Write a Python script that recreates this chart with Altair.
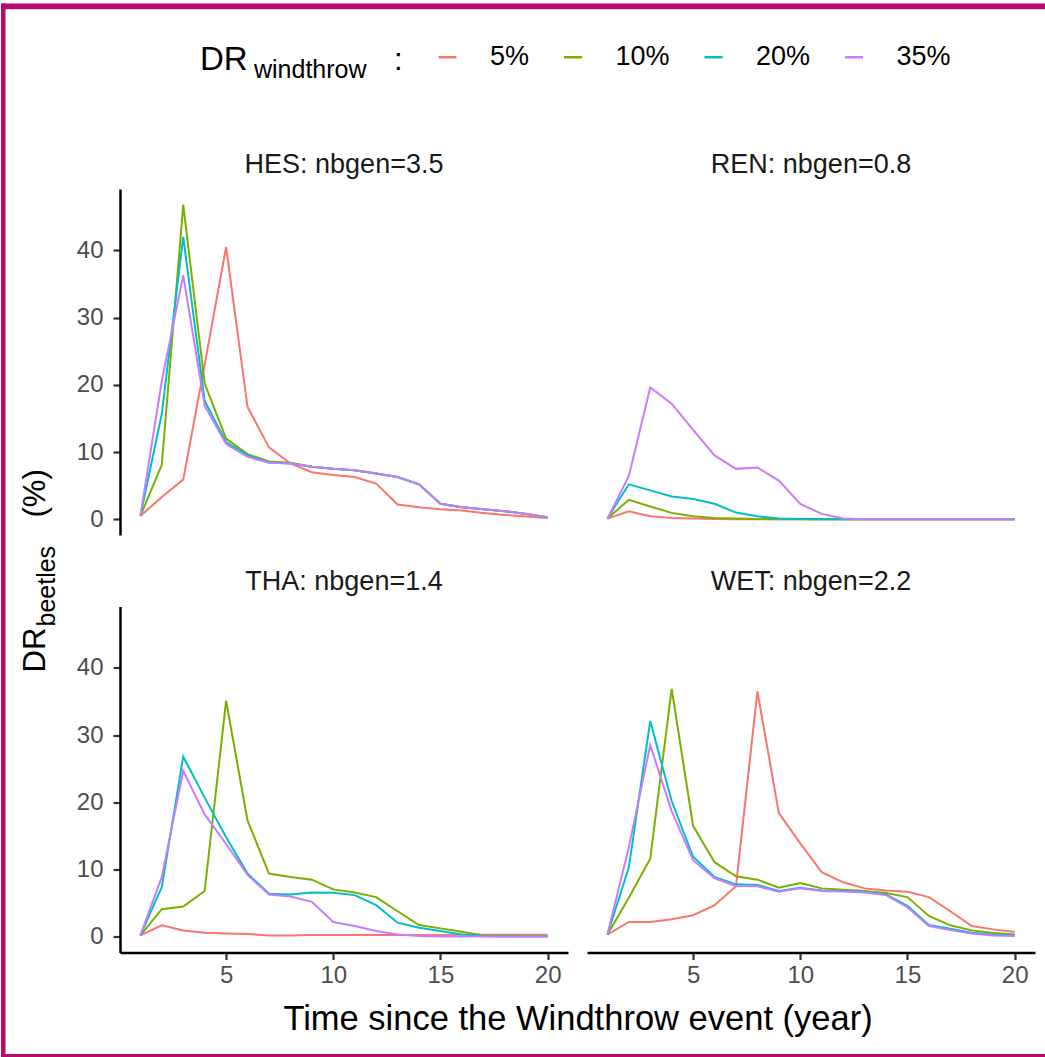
import altair as alt
import pandas as pd

FONT = "Liberation Sans"

# ---------------- data ----------------
years = list(range(1, 21))
dr_levels = ["5%", "10%", "20%", "35%"]
line_colors = ["#F8766D", "#7CAE00", "#00BFC4", "#C77CFF"]
sites = ["HES", "REN", "THA", "WET"]
nbgen = ["3.5", "0.8", "1.4", "2.2"]
panel_labels = [f"{s}: nbgen={g}" for s, g in zip(sites, nbgen)]

hes_5 = [0.5, 3.3, 5.9, 23.0, 40.5, 16.7, 10.7, 8.3, 7.0, 6.6, 6.3, 5.3, 2.2, 1.8, 1.5, 1.3, 0.95, 0.65, 0.4, 0.2]
hes_10 = [0.5, 8.1, 46.8, 20.2, 12.0, 9.7, 8.6, 8.4, 7.8, 7.5, 7.3, 6.8, 6.3, 5.2, 2.3, 1.8, 1.5, 1.2, 0.8, 0.3]
hes_20 = [0.5, 15.7, 42.0, 17.6, 11.5, 9.5, 8.5, 8.3, 7.8, 7.5, 7.3, 6.8, 6.3, 5.2, 2.3, 1.8, 1.5, 1.2, 0.8, 0.3]
hes_35 = [0.5, 20.6, 36.3, 16.9, 11.2, 9.3, 8.4, 8.3, 7.8, 7.5, 7.3, 6.8, 6.3, 5.2, 2.3, 1.8, 1.5, 1.2, 0.8, 0.3]

ren_5 = [0.1, 1.2, 0.45, 0.2, 0.1, 0.05, 0.02, 0.01, 0, 0, 0, 0, 0, 0, 0, 0, 0, 0, 0, 0]
ren_10 = [0.1, 2.9, 1.9, 0.95, 0.45, 0.2, 0.1, 0.05, 0.02, 0.01, 0, 0, 0, 0, 0, 0, 0, 0, 0, 0]
ren_20 = [0.1, 5.2, 4.3, 3.4, 3.0, 2.3, 1.0, 0.45, 0.1, 0.03, 0, 0, 0, 0, 0, 0, 0, 0, 0, 0]
ren_35 = [0.1, 6.4, 19.6, 17.2, 13.3, 9.5, 7.5, 7.7, 5.75, 2.3, 0.8, 0.1, 0.02, 0, 0, 0, 0, 0, 0, 0]

tha_5 = [0.2, 1.7, 0.95, 0.6, 0.5, 0.4, 0.2, 0.2, 0.25, 0.25, 0.25, 0.25, 0.25, 0.25, 0.25, 0.3, 0.3, 0.3, 0.3, 0.3]
tha_10 = [0.2, 4.1, 4.5, 6.8, 35.1, 17.3, 9.4, 8.9, 8.5, 7.05, 6.6, 5.9, 3.8, 1.75, 1.25, 0.75, 0.2, 0.15, 0.1, 0.1]
tha_20 = [0.2, 7.4, 26.8, 20.7, 14.8, 9.4, 6.4, 6.3, 6.6, 6.55, 6.2, 4.7, 2.1, 1.35, 0.85, 0.35, 0.1, 0.05, 0.05, 0.05]
tha_35 = [0.2, 8.9, 24.7, 18.2, 13.8, 9.2, 6.3, 6.0, 5.2, 2.2, 1.6, 0.85, 0.35, 0.1, 0.05, 0.05, 0.05, 0.05, 0.05, 0.05]

wet_5 = [0.3, 2.2, 2.2, 2.6, 3.2, 4.7, 7.5, 36.5, 18.4, 13.9, 9.6, 8.1, 7.2, 6.9, 6.7, 5.9, 3.8, 1.6, 1.1, 0.7]
wet_10 = [0.3, 5.8, 11.6, 36.9, 16.5, 11.1, 9.0, 8.5, 7.3, 8.0, 7.2, 7.0, 6.8, 6.5, 5.9, 3.1, 1.7, 0.95, 0.55, 0.35]
wet_20 = [0.3, 10.3, 32.1, 20.2, 11.9, 8.9, 7.8, 7.7, 6.8, 7.3, 6.9, 6.8, 6.65, 6.3, 4.6, 1.75, 1.2, 0.6, 0.35, 0.2]
wet_35 = [0.3, 13.3, 28.5, 18.7, 11.4, 8.7, 7.55, 7.5, 6.7, 7.2, 6.8, 6.75, 6.6, 6.2, 4.4, 1.6, 1.0, 0.5, 0.2, 0.1]

series_by_site = {
    "HES": [hes_5, hes_10, hes_20, hes_35],
    "REN": [ren_5, ren_10, ren_20, ren_35],
    "THA": [tha_5, tha_10, tha_20, tha_35],
    "WET": [wet_5, wet_10, wet_20, wet_35],
}

x_ticks = [5, 10, 15, 20]
y_ticks = [0, 10, 20, 30, 40]

rows = []
for site, label in zip(sites, panel_labels):
    for lev, vals in zip(dr_levels, series_by_site[site]):
        for t, v in zip(years, vals):
            rows.append({"panel": label, "dr": lev, "year": t, "value": v})
df = pd.DataFrame(rows)

# ---------------- layout constants (pixels) ----------------
W, H = 448, 346
HSP, VSP = 19, 71.5
OX, OY = 120.0, 188.5          # page position of the top-left panel origin
PAGE_W, PAGE_H = 1045, 1057
FRAME = "#B8096F"

# ggplot-like 5% expansion of the scales
xr = max(years) - min(years)
xdom = [min(years) - 0.05 * xr, max(years) + 0.05 * xr]
ymax = float(df["value"].max())
ymin = float(df["value"].min())
yr = ymax - ymin
ydom = [ymin - 0.05 * yr, ymax + 0.05 * yr]

xscale = alt.Scale(domain=xdom, nice=False, zero=False)
yscale = alt.Scale(domain=ydom, nice=False, zero=False)

axis_common = dict(
    title=None, grid=False, labelFont=FONT, labelFontSize=24, labelColor="#4D4D4D",
    tickColor="#333333", tickWidth=2.2, tickSize=7, domainColor="black", domainWidth=2.5,
)
xaxis = alt.Axis(values=x_ticks, labelPadding=4, **axis_common)
yaxis = alt.Axis(values=y_ticks, labelPadding=10, **axis_common)

color_enc = alt.Color(
    "dr:N",
    scale=alt.Scale(domain=dr_levels, range=line_colors),
    sort=dr_levels,
    legend=alt.Legend(
        title=None, orient="none", direction="horizontal",
        legendX=434 - OX, legendY=43 - OY,
        symbolType="stroke", symbolSize=324, symbolStrokeWidth=2.5,
        labelFont=FONT, labelFontSize=27, labelColor="black",
        labelOffset=29, columnPadding=28.5, padding=0,
    ),
)


def one(values):
    return alt.Data(values=[values])


def page_text(txt, ax, ay, size, align="left", angle=0, baseline="alphabetic", color="black"):
    kw = dict(text=txt, font=FONT, fontSize=size, align=align, baseline=baseline, color=color)
    if angle:
        kw["angle"] = angle
    return alt.Chart(one({"k": 1})).mark_text(**kw).encode(
        x=alt.value(ax - OX), y=alt.value(ay - OY)
    )


def page_rect(x0, y0, x1, y1, color, opacity=1.0):
    return alt.Chart(one({"k": 1})).mark_rect(color=color, opacity=opacity).encode(
        x=alt.value(x0 - OX), x2=alt.value(x1 - OX),
        y=alt.value(y0 - OY), y2=alt.value(y1 - OY),
    )


def panel(i, show_x, show_y, extras=()):
    label = panel_labels[i]
    lines = alt.Chart(df).transform_filter(alt.datum.panel == label).mark_line(
        strokeWidth=2
    ).encode(
        x=alt.X("year:Q", scale=xscale, axis=xaxis if show_x else None),
        y=alt.Y("value:Q", scale=yscale, axis=yaxis if show_y else None),
        color=color_enc,
    )
    strip = alt.Chart(one({"label": label})).mark_text(
        font=FONT, fontSize=27, color="#1A1A1A", align="center", baseline="alphabetic"
    ).encode(text="label:N", x=alt.value(W / 2), y=alt.value(-16.5))
    return alt.layer(*extras, lines, strip).properties(width=W, height=H)


decorations = [
    page_rect(0, 0, PAGE_W, PAGE_H, "white", opacity=0.0),
    page_rect(1, 3, 5.5, PAGE_H, FRAME),
    page_rect(1, 3, PAGE_W, 8.7, FRAME),
    page_rect(1, 1053.5, PAGE_W, PAGE_H, FRAME),
    # legend title  DR_windthrow :
    page_text("DR", 200, 69, 33),
    page_text("windthrow", 254, 77, 25),
    page_text(":", 394, 69, 31),
    # y title  DR_beetles (%)
    page_text("DR", 45, 672, 31, angle=270),
    page_text("beetles", 55, 626, 25, angle=270),
    page_text("(%)", 45, 517, 31, angle=270),
    # x title
    page_text("Time since the Windthrow event (year)", 578, 1029, 34.5, align="center"),
]

a = panel(0, False, True, decorations)
b = panel(1, False, False)
c = panel(2, True, True)
d = panel(3, True, False)

chart = (
    alt.concat(a, b, c, d, columns=2, spacing={"row": VSP, "column": HSP}, bounds="flush")
    .resolve_scale(color="shared")
    .properties(padding=0, background="white")
    .configure_view(stroke=None)
)

chart.save("out.html", embed_options={"renderer": "svg", "actions": False})
